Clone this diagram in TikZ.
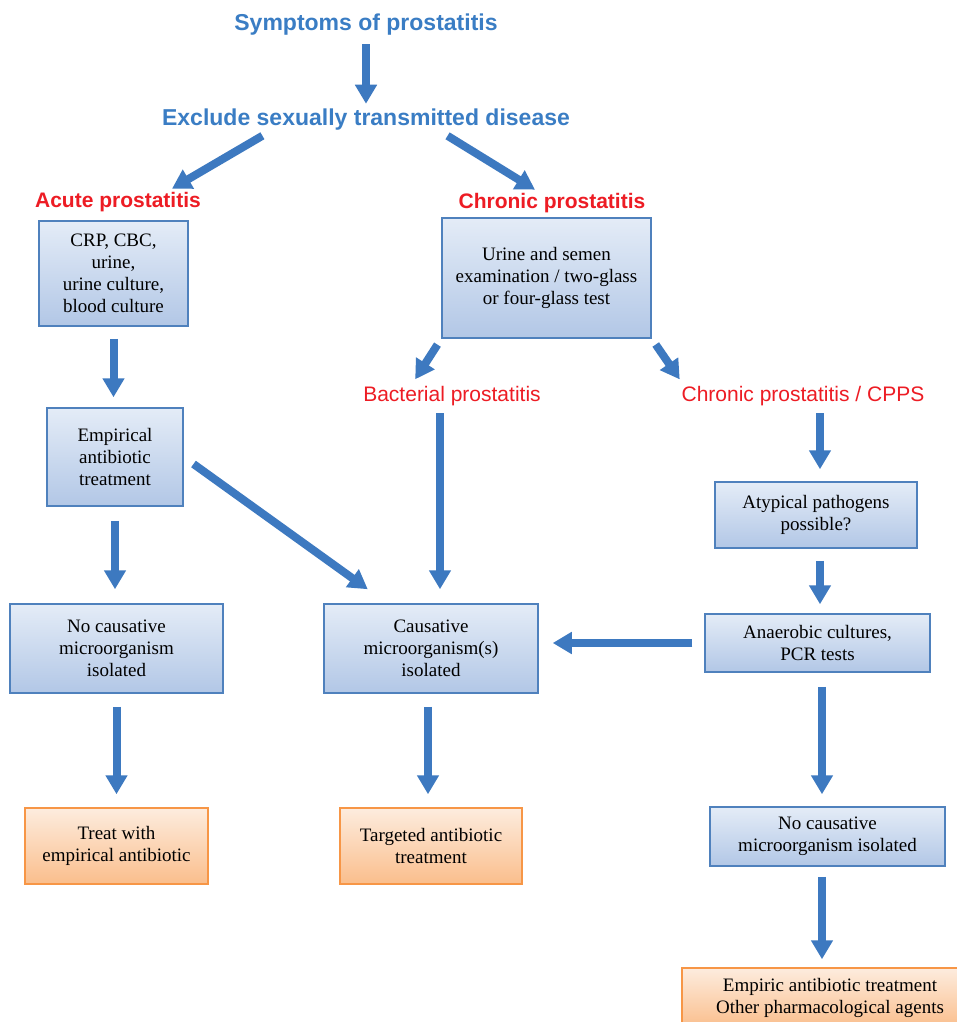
\documentclass[tikz,border=0pt]{standalone}
\usepackage{fontspec}
\setmainfont{Liberation Serif}
\setsansfont{Liberation Sans}
\usetikzlibrary{arrows.meta}

\definecolor{hdblue}{RGB}{58,125,196}
\definecolor{hdred}{RGB}{237,28,36}
\definecolor{arrblue}{RGB}{61,121,192}
\definecolor{boxline}{RGB}{79,129,189}
\definecolor{boxtop}{RGB}{228,236,247}
\definecolor{boxbot}{RGB}{178,199,230}
\definecolor{orline}{RGB}{247,150,70}
\definecolor{ortop}{RGB}{253,236,222}
\definecolor{orbot}{RGB}{250,190,140}

\begin{document}
\begin{tikzpicture}[x=1pt,y=-1pt,
  hdr/.style={font=\sffamily\bfseries\fontsize{23}{27}\selectfont, text=hdblue},
  redhd/.style={font=\sffamily\bfseries\fontsize{21}{25}\selectfont, text=hdred},
  redlbl/.style={font=\sffamily\fontsize{21}{25}\selectfont, text=hdred},
  bluebox/.style={draw=boxline, line width=1.5pt, top color=boxtop, bottom color=boxbot,
    align=center, inner sep=0pt, font=\fontsize{19}{22}\selectfont},
  orangebox/.style={bluebox, draw=orline, top color=ortop, bottom color=orbot},
  flow/.style={draw=arrblue, line width=8pt, -{Triangle[width=21pt,length=19pt]}}]

\useasboundingbox (0,0) rectangle (957,1022);
\fill[white] (0,0) rectangle (957,1022);

\node[hdr] (sympt) at (366,25) {Symptoms of prostatitis};
\node[hdr] (excl) at (366,120) {Exclude sexually transmitted disease};
\node[redhd] (acute) at (118,202) {Acute prostatitis};
\node[redhd] (chron) at (552,203) {Chronic prostatitis};
\node[redlbl] (bact) at (452,396) {Bacterial prostatitis};
\node[redlbl] (cpps) at (803,396) {Chronic prostatitis / CPPS};

\node[bluebox, minimum width=149pt, minimum height=105pt] (labs) at (113.5,273.5) {CRP, CBC,\\urine,\\urine culture,\\blood culture};
\node[bluebox, minimum width=209pt, minimum height=120pt] (urine) at (546.5,278) {Urine and semen\\examination / two-glass\\or four-glass test};
\node[bluebox, minimum width=136pt, minimum height=98pt] (empir) at (115,457) {Empirical\\antibiotic\\treatment};
\node[bluebox, minimum width=202pt, minimum height=66pt] (atyp) at (816,515) {Atypical pathogens\\possible?};
\node[bluebox, minimum width=213pt, minimum height=89pt] (nocl) at (116.5,648.5) {No causative\\microorganism\\isolated};
\node[bluebox, minimum width=214pt, minimum height=89pt] (caus) at (431,648.5) {Causative\\microorganism(s)\\isolated};
\node[bluebox, minimum width=225pt, minimum height=58pt] (anaer) at (817.5,643) {Anaerobic cultures,\\PCR tests};
\node[orangebox, minimum width=183pt, minimum height=76pt] (treat) at (116.5,846) {Treat with\\empirical antibiotic};
\node[orangebox, minimum width=182pt, minimum height=76pt] (targ) at (431,846) {Targeted antibiotic\\treatment};
\node[bluebox, minimum width=235pt, minimum height=59pt] (nocr) at (827.5,836.5) {No causative\\microorganism isolated};
\node[orangebox, minimum width=296pt, minimum height=60pt] (empic) at (830,998) {Empiric antibiotic treatment\\Other pharmacological agents};

\draw[flow, shorten <=5pt, shorten >=2pt] (sympt) -- (excl);
\draw[flow, shorten <=3pt] ([xshift=-101pt]excl.south) -- ([xshift=54pt]acute.north);
\draw[flow, shorten <=3pt] ([xshift=79pt]excl.south) -- ([xshift=-17pt]chron.north);

\draw[flow, shorten <=12pt, shorten >=10pt] (labs.south) -- (labs.south |- empir.north);
\draw[flow, shorten <=7pt, shorten >=4pt] (urine.south west) -- ([xshift=-39pt]bact.north);
\draw[flow, shorten <=7pt, shorten >=4pt] (urine.south east) -- ([xshift=-121pt]cpps.north);

\draw[flow, shorten <=4pt, shorten >=14pt] ([xshift=-12pt]bact.south) -- ([xshift=-12pt]bact.south |- caus.north);
\draw[flow, shorten <=4pt, shorten >=12pt] ([xshift=17pt]cpps.south) -- ([xshift=17pt]cpps.south |- atyp.north);
\draw[flow, shorten <=12pt, shorten >=24pt] (empir.east) -- ([xshift=64pt]caus.north west);
\draw[flow, shorten <=14pt, shorten >=14pt] (empir.south) -- (empir.south |- nocl.north);
\draw[flow, shorten <=12pt, shorten >=9pt] ([xshift=4pt]atyp.south) -- ([xshift=4pt]atyp.south |- anaer.north);
\draw[flow, shorten <=12pt, shorten >=14pt] (anaer.west) -- (anaer.west -| caus.east);
\draw[flow, shorten <=14pt, shorten >=12pt] ([xshift=4.5pt]anaer.south) -- ([xshift=4.5pt]anaer.south |- nocr.north);

\draw[flow, shorten <=13pt, shorten >=13pt] (nocl.south) -- (nocl.south |- treat.north);
\draw[flow, shorten <=13pt, shorten >=13pt] ([xshift=-3pt]caus.south) -- ([xshift=-3pt]caus.south |- targ.north);
\draw[flow, shorten <=10pt, shorten >=8pt] ([xshift=-5.5pt]nocr.south) -- ([xshift=-5.5pt]nocr.south |- empic.north);

\end{tikzpicture}
\end{document}
